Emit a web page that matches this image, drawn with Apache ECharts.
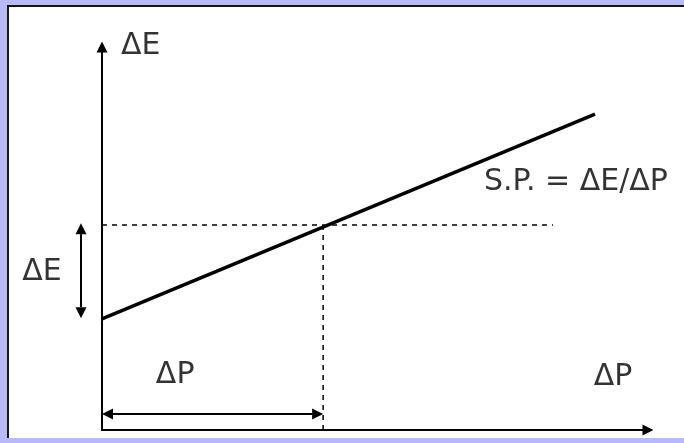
<!DOCTYPE html>
<html>
<head>
<meta charset="utf-8">
<script src="https://cdn.jsdelivr.net/npm/echarts@6/dist/echarts.min.js"></script>
<style>
  html, body { margin: 0; padding: 0; background: #b9b9f9; }
  #frame {
    position: absolute; left: 7px; top: 5px; width: 690px; height: 431px;
    background: #fff; border-left: 2px solid #14141e; border-top: 2px solid #14141e;
  }
  #chart { position: absolute; left: 0; top: 0; width: 684px; height: 443px; }
</style>
</head>
<body>
<div id="frame"></div>
<div id="chart"></div>
<script>
// schematic: supply line, arbitrary units (0..100 on both axes)
const supplyLine = [[0, 29.0], [90.3, 82.5]];
const guideH = [[0, 53.5], [82.6, 53.5]];
const guideV = [[40.5, 0], [40.5, 53.5]];
// double arrows: [x1, y1, x2, y2]
const doubleArrows = [
  [-3.85, 54.0, -3.85, 29.2],
  [0, 4.2, 40.5, 4.2],
];
const labelNames = ["ΔE", "ΔE", "ΔP", "ΔP", "S.P. = ΔE/ΔP"];
const labelPos = [[7.1, 100.3], [-11.0, 41.3], [13.4, 14.4], [93.6, 13.8], [86.8, 64.6]];

const chart = echarts.init(document.getElementById("chart"));

const axisCommon = {
  type: "value",
  min: 0,
  max: 100,
  axisLine: {
    show: true,
    symbol: ["none", "triangle"],
    symbolSize: [11, 11],
    lineStyle: { color: "#000", width: 2 },
  },
  axisTick: { show: false },
  axisLabel: { show: false },
  splitLine: { show: false },
};

const dashed = { color: "#000", width: 1.5, type: [5, 5] };

function renderArrow(params, api) {
  const p1 = api.coord([api.value(0), api.value(1)]);
  const p2 = api.coord([api.value(2), api.value(3)]);
  const dx = p2[0] - p1[0], dy = p2[1] - p1[1];
  const len = Math.sqrt(dx * dx + dy * dy);
  const ux = dx / len, uy = dy / len;
  const nx = -uy, ny = ux;
  const L = 11, w = 5.5;
  const head = (tip, s) => ({
    type: "polygon",
    shape: {
      points: [
        tip,
        [tip[0] + s * ux * L + nx * w, tip[1] + s * uy * L + ny * w],
        [tip[0] + s * ux * L - nx * w, tip[1] + s * uy * L - ny * w],
      ],
    },
    style: { fill: "#000" },
  });
  return {
    type: "group",
    children: [
      {
        type: "line",
        shape: {
          x1: p1[0] + ux * L, y1: p1[1] + uy * L,
          x2: p2[0] - ux * L, y2: p2[1] - uy * L,
        },
        style: { stroke: "#000", lineWidth: 2 },
      },
      head(p1, 1),
      head(p2, -1),
    ],
  };
}

chart.setOption({
  animation: false,
  backgroundColor: "transparent",
  grid: { left: 102, right: 36, top: 47, bottom: 13 },
  xAxis: axisCommon,
  yAxis: axisCommon,
  series: [
    {
      type: "line",
      data: supplyLine,
      symbol: "none",
      clip: false,
      lineStyle: { color: "#000", width: 3.5 },
    },
    {
      type: "line",
      data: guideH,
      symbol: "none",
      lineStyle: dashed,
    },
    {
      type: "line",
      data: guideV,
      symbol: "none",
      lineStyle: dashed,
    },
    {
      type: "custom",
      clip: false,
      silent: true,
      renderItem: renderArrow,
      encode: { x: [0, 2], y: [1, 3] },
      data: doubleArrows,
    },
    {
      type: "scatter",
      symbolSize: 0,
      clip: false,
      data: labelPos.map((p, i) => ({ name: labelNames[i], value: p })),
      label: {
        show: true,
        position: "inside",
        formatter: (p) => p.name,
        color: "#000",
        fontFamily: "DejaVu Sans",
        fontSize: 30,
      },
    },
  ],
});
</script>
</body>
</html>
